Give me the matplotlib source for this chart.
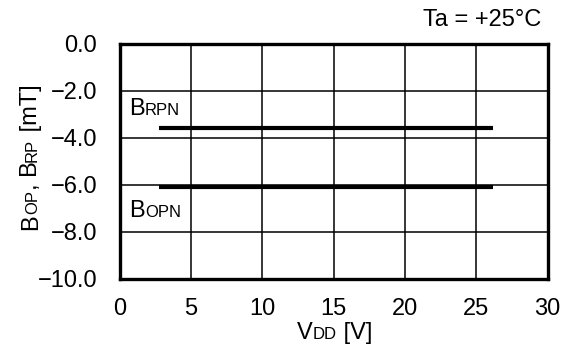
import matplotlib
matplotlib.use("Agg")
import matplotlib.pyplot as plt
import numpy as np

plt.rcParams['font.family'] = ['Liberation Sans', 'DejaVu Sans']

# supply voltage range of the measurement and the thresholds
vdd = [2.8, 26.2]
b_rpn = [-3.6, -3.6]
b_opn = [-6.1, -6.1]

x_ticks = [0, 5, 10, 15, 20, 25, 30]
y_ticks = [0.0, -2.0, -4.0, -6.0, -8.0, -10.0]

BIG = 17
SMALL = 12

W, H = 576, 350
fig = plt.figure(figsize=(W / 100, H / 100), dpi=100)
ax = fig.add_axes([119.5 / W, 1 - 278.5 / H, 428 / W, 235 / H])

ax.plot(vdd, b_rpn, color='black', lw=3.0, solid_capstyle='butt', zorder=3)
ax.plot(vdd, b_opn, color='black', lw=3.0, solid_capstyle='butt', zorder=3)

ax.set_xlim(0, 30)
ax.set_ylim(-10, 0)
ax.set_xticks(x_ticks)
ax.set_yticks(y_ticks)
ax.set_xticklabels([str(v) for v in x_ticks])
ax.set_yticklabels([f'{v:.1f}'.replace('-', '\u2212') for v in y_ticks])
ax.tick_params(length=0, labelsize=BIG)
ax.tick_params(axis='x', pad=14)
ax.tick_params(axis='y', pad=16)
ax.grid(True, color='black', lw=1.1)
for sp in ax.spines.values():
    sp.set_linewidth(2.4)
    sp.set_zorder(4)

ax.text(0.986, 1.074, 'Ta = +25\u00b0C', transform=ax.transAxes,
        ha='right', va='baseline', fontsize=BIG)

renderer = fig.canvas.get_renderer()


def put_parts(parts, x, y, rot=0):
    # draw pieces of text with mixed sizes on one baseline (pixel coords)
    for s, size in parts:
        t = fig.text(x / W, y / H, s, fontsize=size, rotation=rot,
                     ha='left', va='baseline', rotation_mode='anchor')
        bb = t.get_window_extent(renderer)
        if rot == 0:
            x += bb.width
        else:
            y += bb.height


def to_px(xd, yd):
    return ax.transData.transform((xd, yd))


px, py = to_px(0.7, -3.05)
put_parts([('B', BIG), ('RPN', SMALL)], px, py)
px, py = to_px(0.7, -7.4)
put_parts([('B', BIG), ('OPN', SMALL)], px, py)

# x axis label
put_parts([('V', BIG), ('DD', SMALL), (' [V]', BIG)], 297, H - 339)
# y axis label
put_parts([('B', BIG), ('OP', SMALL), (', B', BIG), ('RP', SMALL), (' [mT]', BIG)],
          37, H - 230, rot=90)

fig.savefig('out.png', dpi=100)
